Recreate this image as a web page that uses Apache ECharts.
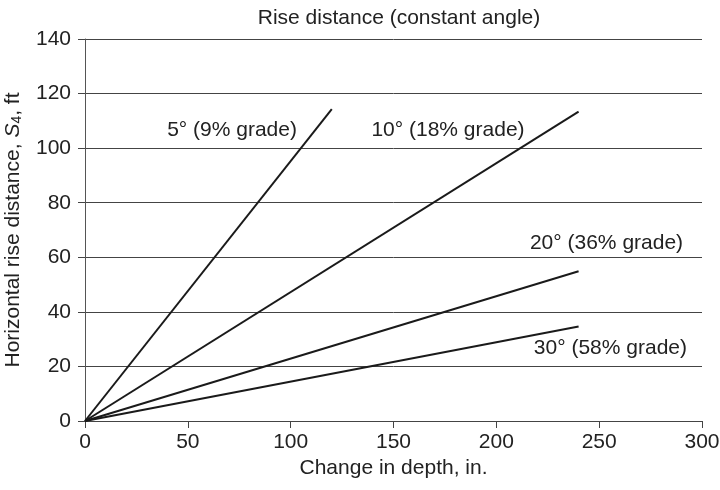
<!DOCTYPE html>
<html><head><meta charset="utf-8">
<script src="https://cdn.jsdelivr.net/npm/echarts@6/dist/echarts.min.js"></script>
<style>html,body{margin:0;padding:0;background:#fff}#c{width:720px;height:490px}</style>
</head><body><div id="c"></div>
<script>
var depth = [0, 120, 240];
var angle5 = [0, 114.3];
var angle10 = [0, 113.4];
var angle20 = [0, 54.9];
var angle30 = [0, 34.6];
var seriesNames = ['5° (9% grade)', '10° (18% grade)', '20° (36% grade)', '30° (58% grade)'];
var xTicks = [0, 50, 100, 150, 200, 250, 300];
var yTicks = [0, 20, 40, 60, 80, 100, 120, 140];

var font = 'Liberation Sans, Arial, Helvetica, sans-serif';
var fs = 21;
function lineSeries(name, xs, ys) {
  return {
    name: name, type: 'line', symbol: 'none', animation: false,
    lineStyle: {color: '#1a1a1a', width: 2},
    data: xs.map(function (x, i) { return [x, ys[i]]; })
  };
}
function labelSeries(text, x, y, align) {
  return {
    type: 'scatter', symbolSize: 0, animation: false, silent: true,
    itemStyle: {opacity: 1},
    data: [[x, y]],
    label: {show: true, position: 'inside', formatter: text, align: align, verticalAlign: 'middle',
      color: '#222', fontSize: fs, fontFamily: font, opacity: 1}
  };
}
var chart = echarts.init(document.getElementById('c'), null, {renderer: 'canvas'});
chart.setOption({
  backgroundColor: '#fff',
  title: {text: 'Rise distance (constant angle)', left: 394, top: 3, textAlign: 'center',
    textStyle: {fontSize: fs, fontWeight: 'normal', color: '#222', fontFamily: font}},
  grid: {left: 85, right: 18, top: 39, bottom: 69, containLabel: false, outerBoundsMode: 'none'},
  xAxis: {
    type: 'value', min: 0, max: 300, interval: 50,
    name: 'Change in depth, in.', nameLocation: 'middle', nameGap: 36,
    nameTextStyle: {fontSize: fs, color: '#222', fontFamily: font},
    axisLine: {lineStyle: {color: '#444', width: 1}},
    axisTick: {show: true, length: 7, lineStyle: {color: '#444'}},
    axisLabel: {fontSize: fs, color: '#222', fontFamily: font, margin: 11,
      formatter: function (v) { return xTicks.indexOf(v) >= 0 ? String(v) : ''; }},
    splitLine: {show: false}
  },
  yAxis: {
    type: 'value', min: 0, max: 140, interval: 20,
    name: 'Horizontal rise distance, {i|S}{sub|4}, ft', nameLocation: 'middle', nameGap: 61,
    nameTextStyle: {fontSize: fs, color: '#222', fontFamily: font,
      rich: {i: {fontStyle: 'italic', fontSize: fs, fontFamily: font, color: '#222'},
             sub: {fontSize: 14, fontFamily: font, color: '#222', verticalAlign: 'bottom', padding: [8, 0, 0, 0]}}},
    axisLine: {show: true, lineStyle: {color: '#555', width: 1}},
    axisTick: {show: true, length: 7, lineStyle: {color: '#444'}},
    axisLabel: {fontSize: fs, color: '#222', fontFamily: font, margin: 14,
      formatter: function (v) { return yTicks.indexOf(v) >= 0 ? String(v) : ''; }},
    splitLine: {show: true, lineStyle: {color: '#444', width: 1}}
  },
  series: [
    lineSeries(seriesNames[0], [depth[0], depth[1]], angle5),
    lineSeries(seriesNames[1], [depth[0], depth[2]], angle10),
    lineSeries(seriesNames[2], [depth[0], depth[2]], angle20),
    lineSeries(seriesNames[3], [depth[0], depth[2]], angle30),
    labelSeries(seriesNames[0], 71.5, 106.6, 'center'),
    labelSeries(seriesNames[1], 176.5, 106.6, 'center'),
    labelSeries(seriesNames[2], 290.8, 65.3, 'right'),
    labelSeries(seriesNames[3], 292.7, 26.6, 'right')
  ]
});
</script></body></html>
